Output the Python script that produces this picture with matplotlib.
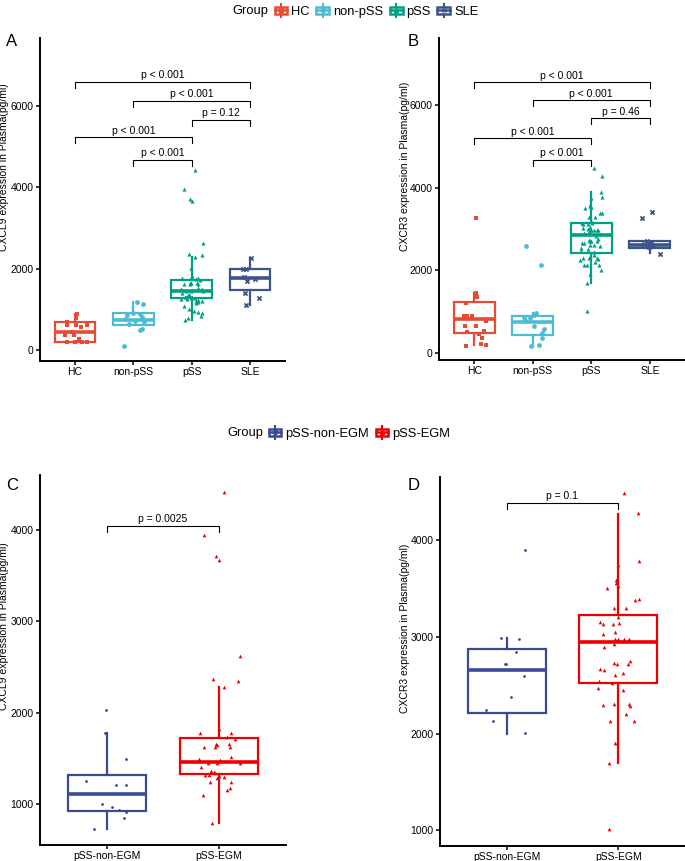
import matplotlib
matplotlib.use("Agg")
import matplotlib.pyplot as plt
from matplotlib.legend_handler import HandlerBase
from matplotlib.patches import Rectangle
from matplotlib.lines import Line2D

plt.rcParams["font.family"] = ["Liberation Sans", "DejaVu Sans"]

# ---- groups / colours ----
groups_top = ["HC", "non-pSS", "pSS", "SLE"]
colors_top = ["#E64B35", "#4DBBD5", "#00A087", "#3C5488"]
markers_top = ["s", "o", "^", "x"]
groups_bottom = ["pSS-non-EGM", "pSS-EGM"]
colors_bottom = ["#3B4992", "#EE0000"]
markers_bottom = ["o", "^"]

# ---- panel C / A pSS : CXCL9 ----
cxcl9_non_egm = [2030, 1781, 1493, 1255, 1208, 1208, 1000, 971, 934, 909, 850, 730]
jit_non_egm_c = [-0.01, -0.02, 0.17, -0.19, 0.08, 0.17, -0.05, 0.045, 0.11, 0.17, 0.155, -0.12]
cxcl9_egm = [4417, 3950, 3713, 3672, 2624, 2369, 2347, 2281, 1825, 1781, 1781, 1737, 1715,
             1628, 1657, 1650, 1657, 1620, 1620, 1518, 1493, 1482, 1445, 1445, 1445, 1401,
             1361, 1350, 1318, 1318, 1340, 1307, 1292, 1282, 1245, 1237, 1172, 1150, 1095, 788]
jit_egm_c = [0.05, -0.137, -0.027, 0.0, 0.19, -0.05, 0.17, 0.05, 0.0, -0.17, 0.11, 0.07, 0.14,
             -0.13, -0.03, -0.015, 0.09, -0.036, 0.1, 0.11, -0.18, 0.01, -0.1, -0.02, 0.19, -0.16,
             -0.07, -0.045, -0.12, -0.09, -0.036, 0.0, 0.05, -0.02, -0.08, 0.11, 0.1, 0.07, -0.14, -0.06]

# ---- panel A : CXCL9 ----
cxcl9_hc = [898, 800, 702, 612, 612, 612, 560, 440, 375, 375, 286, 204, 204, 204, 190]
jit_hc_a = [0.03, 0.01, -0.14, 0.2, 0.02, -0.13, 0.1, -0.05, -0.18, -0.01, 0.07, -0.14, 0.0, 0.2, 0.12]
cxcl9_nonpss = [1192, 1143, 906, 898, 873, 820, 760, 718, 690, 650, 530, 490, 106]
jit_nonpss_a = [0.06, 0.17, -0.01, 0.11, -0.11, 0.15, -0.15, 0.03, 0.18, -0.08, 0.15, 0.12, -0.16]
cxcl9_pss = cxcl9_non_egm + cxcl9_egm
jit_pss_a = jit_non_egm_c + jit_egm_c
cxcl9_sle = [2269, 2000, 1985, 1804, 1760, 1700, 1412, 1290, 1118]
jit_sle_a = [0.02, -0.07, -0.12, -0.1, 0.08, -0.06, -0.085, 0.16, -0.07]

a_q1 = [200, 612, 1275, 1469]
a_med = [440, 730, 1445, 1775]
a_q3 = [702, 915, 1718, 2000]
a_lo = [190, 612, 750, 1118]
a_hi = [898, 1192, 2290, 2269]
a_pairs = [(1, 4), (2, 4), (3, 4), (1, 3), (2, 3)]
a_bracket_y = [6596, 6130, 5657, 5233, 4678]
a_pvals = ["p < 0.001", "p < 0.001", "p = 0.12", "p < 0.001", "p < 0.001"]

# ---- panel D / B pSS : CXCR3 ----
cxcr3_non_egm = [3897, 2993, 2979, 2845, 2724, 2720, 2596, 2379, 2245, 2131, 2003]
jit_non_egm_d = [0.16, -0.05, 0.11, 0.08, -0.02, -0.01, 0.155, 0.04, -0.19, -0.125, 0.16]
cxcr3_egm = [4489, 4283, 3786, 3748, 3593, 3558, 3524, 3503, 3383, 3390, 3296, 3296, 3207,
             3155, 3131, 3131, 3141, 3034, 3052, 2976, 2976, 2983, 2983, 2924, 2896, 2734,
             2717, 2752, 2721, 2665, 2662, 2610, 2627, 2541, 2527, 2469, 2455, 2293, 2303,
             2310, 2286, 2207, 2134, 2134, 1907, 1700, 1010]
jit_egm_d = [0.054, 0.176, 0.19, 0.0, -0.024, -0.02, 0.0, -0.1, 0.15, 0.19, -0.036, 0.07, 0.0,
             -0.16, -0.14, -0.05, 0.01, -0.14, -0.03, -0.03, 0.0, 0.05, 0.1, -0.04, -0.13, -0.036,
             -0.015, 0.11, 0.09, -0.16, -0.125, -0.03, 0.045, -0.17, -0.057, -0.18, 0.045, -0.14,
             -0.036, 0.1, 0.11, 0.07, -0.07, 0.14, -0.03, -0.08, -0.08]

# ---- panel B : CXCR3 ----
cxcr3_hc = [3274, 1452, 1355, 1210, 887, 887, 887, 766, 669, 669, 548, 500, 468, 363, 218, 194, 177]
jit_hc_b = [0.03, 0.03, 0.05, -0.14, -0.18, -0.12, -0.04, 0.21, -0.16, 0.03, 0.16, -0.12, 0.085,
            0.13, 0.11, 0.21, -0.14]
cxcr3_nonpss = [2589, 2121, 968, 911, 871, 850, 790, 661, 589, 480, 363, 194, 185]
jit_nonpss_b = [-0.11, 0.14, 0.06, 0.02, -0.15, -0.04, -0.14, 0.02, 0.19, 0.15, 0.16, 0.1, -0.03]
cxcr3_pss = cxcr3_non_egm + cxcr3_egm
jit_pss_b = jit_non_egm_d + jit_egm_d
cxcr3_sle = [3419, 3258, 2700, 2660, 2630, 2600, 2560, 2387]
jit_sle_b = [0.03, -0.13, -0.05, 0.02, -0.1, 0.06, -0.02, 0.18]

b_q1 = [484, 443, 2434, 2532]
b_med = [823, 742, 2854, 2621]
b_q3 = [1242, 887, 3159, 2709]
b_lo = [194, 185, 1693, 2430]
b_hi = [1452, 968, 3885, 2720]
b_pairs = [(1, 4), (2, 4), (3, 4), (1, 3), (2, 3)]
b_bracket_y = [6555, 6110, 5684, 5200, 4676]
b_pvals = ["p < 0.001", "p < 0.001", "p = 0.46", "p < 0.001", "p < 0.001"]

# ---- panel C / D box stats ----
c_q1 = [927, 1329]
c_med = [1110, 1460]
c_q3 = [1318, 1719]
c_lo = [730, 788]
c_hi = [1781, 2278]
c_pairs = [(1, 2)]
c_bracket_y = [4045]
c_pvals = ["p = 0.0025"]

d_q1 = [2217, 2527]
d_med = [2655, 2948]
d_q3 = [2879, 3224]
d_lo = [2000, 1700]
d_hi = [2993, 4276]
d_pairs = [(1, 2)]
d_bracket_y = [4390]
d_pvals = ["p = 0.1"]

FS = 7.5


def draw_panel(ax, values, jitters, colors, markers, sizes, q1, med, q3, lo, hi,
               names, ylim, yticks, ylabel, label_xy, pairs, bracket_y, pvals, tip_px):
    pos = list(range(1, len(names) + 1))
    stats = [dict(med=m, q1=a, q3=b, whislo=l, whishi=h)
             for a, m, b, l, h in zip(q1, med, q3, lo, hi)]
    bp = ax.bxp(stats, positions=pos, widths=0.7, showfliers=False, showcaps=False,
                patch_artist=True, zorder=2,
                boxprops=dict(facecolor="white", linewidth=1.6),
                whiskerprops=dict(linewidth=1.6),
                medianprops=dict(linewidth=2.6))
    for i, c in enumerate(colors):
        bp["boxes"][i].set_edgecolor(c)
        bp["medians"][i].set_color(c)
        bp["whiskers"][2 * i].set_color(c)
        bp["whiskers"][2 * i + 1].set_color(c)
    for i, (vals, jit) in enumerate(zip(values, jitters)):
        xs = [pos[i] + j for j in jit]
        if markers[i] == "x":
            ax.scatter(xs, vals, marker="x", s=sizes[i], color=colors[i], linewidths=1.3, zorder=3)
        else:
            ax.scatter(xs, vals, marker=markers[i], s=sizes[i], color=colors[i], linewidths=0, zorder=3)

    ax.set_xlim(0.4, len(names) + 0.6)
    ax.set_ylim(*ylim)
    ax.set_xticks(pos)
    ax.set_xticklabels(names, fontsize=FS)
    ax.set_yticks(yticks)
    ax.set_yticklabels([str(t) for t in yticks], fontsize=FS)
    ax.set_ylabel(ylabel, fontsize=FS)
    ax.yaxis.set_label_coords(*label_xy)
    for s in ["top", "right"]:
        ax.spines[s].set_visible(False)
    for s in ["left", "bottom"]:
        ax.spines[s].set_linewidth(1.4)
    ax.tick_params(axis="both", length=3, width=1.1, pad=1.5, colors="black")

    # significance brackets
    height_px = ax.get_position().height * ax.figure.get_figheight() * ax.figure.dpi
    tip = tip_px / height_px * (ylim[1] - ylim[0])
    for (i, j), y, p in zip(pairs, bracket_y, pvals):
        ax.plot([i, i, j, j], [y - tip, y, y, y - tip], color="black", lw=0.8, zorder=4)
        ax.annotate(p, ((i + j) / 2, y), xytext=(0, 1), textcoords="offset points",
                    ha="center", va="bottom", fontsize=FS)


class BoxKey:
    def __init__(self, color, marker):
        self.color = color
        self.marker = marker


class BoxKeyHandler(HandlerBase):
    def create_artists(self, legend, orig_handle, xdescent, ydescent, width, height, fontsize, trans):
        x0, y0 = -xdescent, -ydescent
        c = orig_handle.color
        cx = x0 + width / 2
        rect = Rectangle((x0 + 0.05 * width, y0 + 0.2 * height), 0.9 * width, 0.6 * height,
                         facecolor="white", edgecolor=c, lw=1.8, transform=trans)
        w1 = Line2D([cx, cx], [y0 - 0.05 * height, y0 + 0.2 * height], color=c, lw=1.5, transform=trans)
        w2 = Line2D([cx, cx], [y0 + 0.8 * height, y0 + 1.05 * height], color=c, lw=1.5, transform=trans)
        md = Line2D([x0 + 0.05 * width, x0 + 0.95 * width], [y0 + height / 2] * 2, color=c, lw=1.8,
                    transform=trans)
        pt = Line2D([cx], [y0 + height / 2], marker=orig_handle.marker, color=c, ms=3,
                    mew=1, linestyle="none", transform=trans)
        return [rect, w1, w2, md, pt]


def add_legend(fig, names, colors, markers, x_title, x_keys, y):
    fig.text(x_title, y, "Group", fontsize=9.3, ha="left", va="center")
    handles = [BoxKey(c, m) for c, m in zip(colors, markers)]
    fig.legend(handles, names, handler_map={BoxKey: BoxKeyHandler()}, loc="center left",
               bbox_to_anchor=(x_keys, y), ncol=len(names), frameon=False, fontsize=9.3,
               handlelength=1.1, handleheight=1.1, handletextpad=0.25, columnspacing=0.45,
               borderpad=0, borderaxespad=0)


W, H = 685, 861
fig = plt.figure(figsize=(W / 100, H / 100), dpi=100)
axA = fig.add_axes([40 / W, 1 - 361 / H, 245 / W, 323 / H])
axB = fig.add_axes([439 / W, 1 - 360 / H, 246 / W, 322 / H])
axC = fig.add_axes([40 / W, 1 - 845 / H, 246 / W, 370 / H])
axD = fig.add_axes([440 / W, 1 - 846 / H, 245 / W, 369 / H])

draw_panel(axA, [cxcl9_hc, cxcl9_nonpss, cxcl9_pss, cxcl9_sle],
           [jit_hc_a, jit_nonpss_a, jit_pss_a, jit_sle_a], colors_top, markers_top,
           [6, 12, 9, 9], a_q1, a_med, a_q3, a_lo, a_hi, groups_top,
           (-265, 7665), [0, 2000, 4000, 6000], "CXCL9 expression in Plasma(pg/ml)",
           (-0.125, 0.60), a_pairs, a_bracket_y, a_pvals, 6)
draw_panel(axB, [cxcr3_hc, cxcr3_nonpss, cxcr3_pss, cxcr3_sle],
           [jit_hc_b, jit_nonpss_b, jit_pss_b, jit_sle_b], colors_top, markers_top,
           [6, 12, 9, 9], b_q1, b_med, b_q3, b_lo, b_hi, groups_top,
           (-165, 7620), [0, 2000, 4000, 6000], "CXCR3 expression in Plasma(pg/ml)",
           (-0.118, 0.60), b_pairs, b_bracket_y, b_pvals, 6)
draw_panel(axC, [cxcl9_non_egm, cxcl9_egm], [jit_non_egm_c, jit_egm_c], colors_bottom,
           markers_bottom, [4, 7], c_q1, c_med, c_q3, c_lo, c_hi, groups_bottom,
           (551, 4602), [1000, 2000, 3000, 4000], "CXCL9 expression in Plasma(pg/ml)",
           (-0.125, 0.592), c_pairs, c_bracket_y, c_pvals, 6)
draw_panel(axD, [cxcr3_non_egm, cxcr3_egm], [jit_non_egm_d, jit_egm_d], colors_bottom,
           markers_bottom, [4, 7], d_q1, d_med, d_q3, d_lo, d_hi, groups_bottom,
           (838, 4655), [1000, 2000, 3000, 4000], "CXCR3 expression in Plasma(pg/ml)",
           (-0.122, 0.59), d_pairs, d_bracket_y, d_pvals, 6)

for label, x, y in [("A", 6, 41), ("B", 408, 41), ("C", 6, 485), ("D", 408, 485)]:
    fig.text(x / W, 1 - y / H, label, fontsize=12, ha="left", va="center")

add_legend(fig, groups_top, colors_top, markers_top, 232 / W, 274 / W, 1 - 11 / H)
add_legend(fig, groups_bottom, colors_bottom, markers_bottom, 227 / W, 268 / W, 1 - 433 / H)

fig.savefig("out.png", dpi=100)
